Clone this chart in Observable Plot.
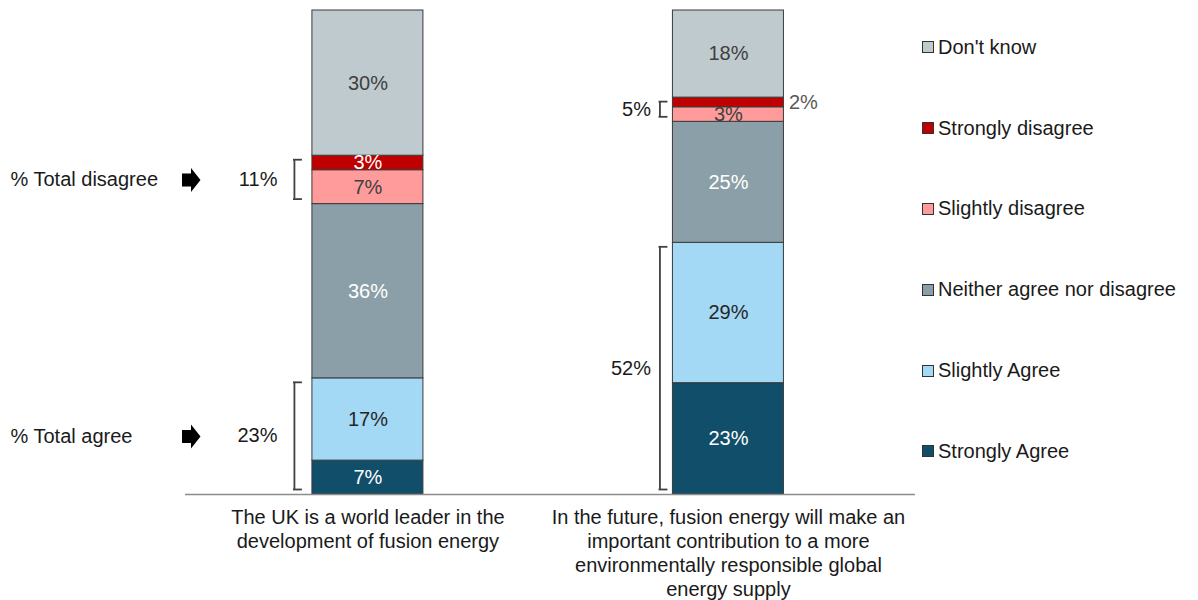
<!DOCTYPE html>
<html><head><meta charset="utf-8">
<script src="https://cdn.jsdelivr.net/npm/d3@7"></script>
<script src="https://cdn.jsdelivr.net/npm/@observablehq/plot@0.6"></script>
<style>
body{margin:0;background:#fff;font-family:"Liberation Sans",Arial,sans-serif;}
#wrap{position:relative;width:1198px;height:600px;overflow:hidden;}
#chart{position:absolute;left:0;top:0;}
#legend{position:absolute;left:922px;top:7px;}
.item{height:80.8px;display:flex;align-items:center;font-size:20px;color:#1a1a1a;white-space:nowrap;}
.sw{width:10px;height:10px;border:1px solid #333;margin-right:4px;flex:none;}
</style></head><body><div id="wrap"><div id="chart"></div><div id="legend"></div></div>
<script>
// ---- data ----
const questions = ["Q1", "Q2"];
const questionLabels = [
  "The UK is a world leader in the\ndevelopment of fusion energy",
  "In the future, fusion energy will make an\nimportant contribution to a more\nenvironmentally responsible global\nenergy supply"
];
const responses = ["Strongly Agree", "Slightly Agree", "Neither agree nor disagree", "Slightly disagree", "Strongly disagree", "Don't know"];
const q1Values = [7, 17, 36, 7, 3, 30];
const q2Values = [23, 29, 25, 3, 2, 18];
const totalAgree = [23, 52];
const totalDisagree = [11, 5];
const sideLabels = ["% Total agree", "% Total disagree"];

// ---- styles ----
const fillColors = ["#114e6a", "#a3d9f5", "#8b9fa8", "#ff9b9b", "#c00000", "#bfcacf"];
const labelColors = ["#ffffff", "#262626", "#ffffff", "#404040", "#ffffff", "#404040"];
const halfBand = 55.5;
const bracketGap = [18, 13];
const labelGap = [35, 22];
const tickLen = 8;
const pxPerUnit = 4.84;          // vertical pixels per percentage point (484px / 100)
const insetTopPx = 4, insetBottomPx = 5;
const font = "Liberation Sans, Arial, sans-serif";

// ---- tables built from data ----
const valuesByQ = [q1Values, q2Values];
const rows = [];
questions.forEach((q, qi) => responses.forEach((r, ri) => rows.push({q, qi, resp: r, ri, v: valuesByQ[qi][ri]})));

const brackets = [];
questions.forEach((q, qi) => {
  const vals = valuesByQ[qi];
  const c = d3.cumsum(vals);
  brackets.push({q, qi, kind: 0, y1: 0, y2: c[1], total: totalAgree[qi]});
  brackets.push({q, qi, kind: 1, y1: c[2], y2: c[4], total: totalDisagree[qi]});
});
const bTop = d => d.y2 - insetTopPx / pxPerUnit;
const bBottom = d => d.y1 + insetBottomPx / pxPerUnit;

const arrowSymbol = {
  draw(ctx) {
    ctx.moveTo(-9, -6.5);
    ctx.lineTo(0, -6.5);
    ctx.lineTo(0, -12);
    ctx.lineTo(9.5, 0);
    ctx.lineTo(0, 12);
    ctx.lineTo(0, 6.5);
    ctx.lineTo(-9, 6.5);
    ctx.closePath();
  }
};

const bracketMarks = questions.flatMap((q, qi) => {
  const data = brackets.filter(b => b.qi === qi);
  const off = halfBand + bracketGap[qi];
  const tickOpts = {insetLeft: -bracketGap[qi] - 0.9, insetRight: 2 * halfBand + bracketGap[qi] - tickLen, stroke: "#404040", strokeWidth: 1.8};
  return [
    Plot.ruleX(data, {x: "q", y1: bBottom, y2: bTop, dx: -off, stroke: "#404040", strokeWidth: 1.8}),
    Plot.tickY(data, {x: "q", y: bTop, ...tickOpts}),
    Plot.tickY(data, {x: "q", y: bBottom, ...tickOpts}),
    Plot.text(data, {x: "q", y: d => (bTop(d) + bBottom(d)) / 2, dx: -(halfBand + labelGap[qi]), text: d => d.total + "%", textAnchor: "end", fill: "#1a1a1a", fontSize: 20, fontFamily: font})
  ];
});

const sideData = brackets.filter(b => b.qi === 0);

const plot = Plot.plot({
  width: 917,
  height: 600,
  marginLeft: 185,
  marginRight: 2,
  marginTop: 10,
  marginBottom: 106,
  style: {fontFamily: font, fontSize: "20px", background: "#fff"},
  x: {domain: questions, paddingInner: 0.6921, paddingOuter: 0.3585, align: 0.491, round: false, axis: null},
  y: {domain: [0, 100], axis: null},
  color: {type: "identity"},
  marks: [
    Plot.barY(rows, Plot.stackY({x: "q", y: "v", z: "resp", fill: d => fillColors[d.ri], stroke: "#3a3a3a", strokeWidth: 1})),
    Plot.text(rows, Plot.stackY({x: "q", y: "v", z: "resp", text: d => d.v >= 3 ? d.v + "%" : "", fill: d => labelColors[d.ri], fontSize: 20, fontFamily: font})),
    Plot.text(rows, Plot.stackY({x: "q", y: "v", z: "resp", text: d => d.v < 3 ? d.v + "%" : "", dx: halfBand + 5, textAnchor: "start", fill: "#595959", fontSize: 20, fontFamily: font})),
    Plot.ruleY([0], {stroke: "#8c8c8c", strokeWidth: 1.5}),
    ...bracketMarks,
    Plot.text(sideData, {y: d => (d.y1 + d.y2) / 2, frameAnchor: "left", dx: -175, textAnchor: "start", text: d => sideLabels[d.kind], fill: "#1a1a1a", fontSize: 20, fontFamily: font}),
    Plot.dot(sideData, {y: d => (d.y1 + d.y2) / 2, frameAnchor: "left", dx: 5.5, symbol: arrowSymbol, fill: "#000", stroke: "none"}),
    Plot.text(questions, {x: d => d, text: (d, i) => questionLabels[i], frameAnchor: "bottom", lineAnchor: "top", dy: 12, lineHeight: 1.21, fill: "#1a1a1a", fontSize: 20, fontFamily: font})
  ]
});
document.getElementById("chart").appendChild(plot);

// ---- legend ----
const legend = document.getElementById("legend");
responses.map((r, i) => ({r, c: fillColors[i]})).reverse().forEach(({r, c}) => {
  const item = document.createElement("div");
  item.className = "item";
  const sw = document.createElement("span");
  sw.className = "sw";
  sw.style.background = c;
  const t = document.createElement("span");
  t.textContent = r;
  item.appendChild(sw);
  item.appendChild(t);
  legend.appendChild(item);
});
</script></body></html>
